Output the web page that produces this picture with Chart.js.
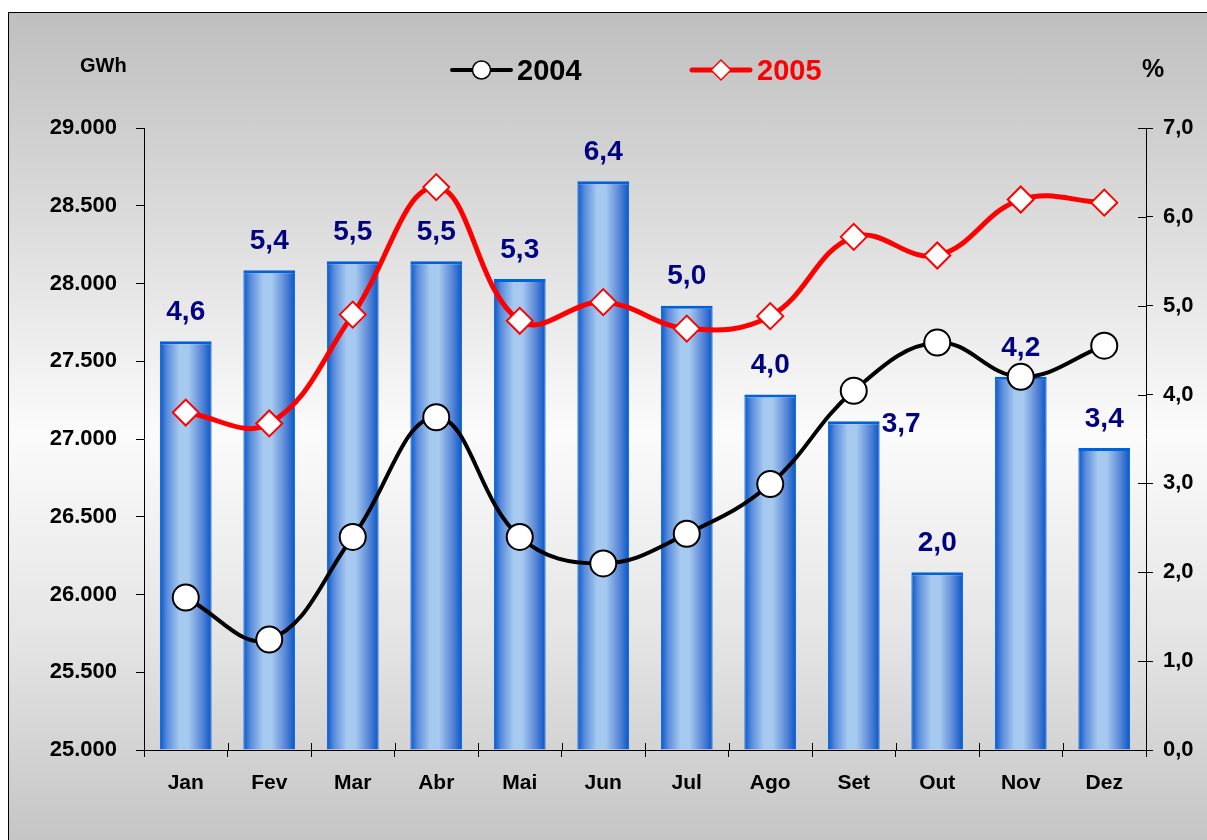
<!DOCTYPE html>
<html>
<head>
<meta charset="utf-8">
<script src="https://cdn.jsdelivr.net/npm/chart.js@4.4.1/dist/chart.umd.min.js"></script>
<style>
  html, body { margin: 0; padding: 0; background: #fff; }
  #frame {
    position: absolute; left: 8px; top: 12px; width: 1210px; height: 840px;
    border-left: 1px solid #000; border-top: 1px solid #000;
    background: linear-gradient(to bottom, #bfbfbf 0%, #dcdcdc 25%, #fbfbfb 50%, #e4e4e4 75%, #c3c3c3 100%);
  }
  #wrap { position: absolute; left: 0; top: 0; width: 1207px; height: 840px; }
</style>
</head>
<body>
<div id="frame"></div>
<div id="wrap"><canvas id="myChart" width="1207" height="840"></canvas></div>
<script>
const months = ["Jan", "Fev", "Mar", "Abr", "Mai", "Jun", "Jul", "Ago", "Set", "Out", "Nov", "Dez"];
const growth = [4.6, 5.4, 5.5, 5.5, 5.3, 6.4, 5.0, 4.0, 3.7, 2.0, 4.2, 3.4];
const gwh2004 = [25980, 25710, 26370, 27140, 26370, 26200, 26390, 26710, 27310, 27620, 27400, 27600];
const gwh2005 = [27170, 27100, 27800, 28620, 27760, 27880, 27710, 27790, 28300, 28180, 28540, 28520];

const fontFam = "'Liberation Sans', Arial, sans-serif";
const barPct = 0.62;

const fmtThousands = (v) => String(v).replace(/\B(?=(\d{3})+(?!\d))/g, ".");
const fmtComma = (v) => Number(v).toFixed(1).replace(".", ",");

// scriptable so that every bar gets its own options object, the gradient is set before drawing
const barFill = (c) => "#4a80d8";

const barGradient = {
  id: "barGradient",
  beforeDatasetDraw(chart, args) {
    if (args.index !== 0) return;
    const ctx = chart.ctx;
    args.meta.data.forEach((bar) => {
      const half = bar.width / 2;
      if (!isFinite(bar.x) || !isFinite(half)) return;
      const g = ctx.createLinearGradient(bar.x - half, 0, bar.x + half, 0);
      g.addColorStop(0, "#0558cc");
      g.addColorStop(0.14, "#5a8cdc");
      g.addColorStop(0.38, "#a6c9ef");
      g.addColorStop(0.55, "#a6c9ef");
      g.addColorStop(0.82, "#5584d6");
      g.addColorStop(1, "#0556c8");
      bar.options.backgroundColor = g;
    });
  }
};

// data labels on bars, drawn right after the bars so lines sit on top
const barLabels = {
  id: "barLabels",
  afterDatasetDraw(chart, args) {
    if (args.index !== 0) return;
    const ctx = chart.ctx;
    ctx.save();
    ctx.font = "bold 28px " + fontFam;
    ctx.fillStyle = "#000080";
    ctx.textBaseline = "middle";
    args.meta.data.forEach((bar, i) => {
      let x = bar.x, y = bar.y - 29;
      ctx.textAlign = "center";
      if (months[i] === "Set") { x = bar.x + bar.width / 2 + 2; y = bar.y + 3; ctx.textAlign = "left"; }
      ctx.fillText(fmtComma(growth[i]), x, y);
    });
    ctx.restore();
  }
};

// legend, axis units and the inner halves of cross ticks
const extras = {
  id: "extras",
  afterDraw(chart) {
    const ctx = chart.ctx;
    const xs = chart.scales.x, yr = chart.scales.y1;
    ctx.save();
    ctx.strokeStyle = "#000";
    ctx.lineWidth = 1;
    ctx.beginPath();
    for (let i = 1; i < months.length; i++) {
      const px = Math.round(xs.left + i * xs.width / months.length) + 0.5;
      ctx.moveTo(px, xs.top - 7);
      ctx.lineTo(px, xs.top);
    }
    yr.ticks.forEach((t, i) => {
      const py = Math.round(yr.getPixelForTick(i)) + 0.5;
      ctx.moveTo(yr.left - 8, py);
      ctx.lineTo(yr.left, py);
    });
    ctx.stroke();

    ctx.fillStyle = "#000";
    ctx.font = "bold 20px " + fontFam;
    ctx.textAlign = "left";
    ctx.textBaseline = "alphabetic";
    ctx.fillText("GWh", 80, 72);
    ctx.font = "bold 25px " + fontFam;
    ctx.fillText("%", 1142, 77);

    const legendY = 70;
    const items = [
      { x1: 452, x2: 511, tx: 517, color: "#000", width: 4, style: "circle", text: "2004" },
      { x1: 692, x2: 750, tx: 757, color: "#ff0000", width: 5, style: "diamond", text: "2005" }
    ];
    items.forEach((it) => {
      ctx.strokeStyle = it.color;
      ctx.lineWidth = it.width;
      ctx.lineCap = "round";
      ctx.beginPath();
      ctx.moveTo(it.x1, legendY);
      ctx.lineTo(it.x2, legendY);
      ctx.stroke();
      const mx = (it.x1 + it.x2) / 2;
      ctx.lineWidth = 1.5;
      ctx.fillStyle = "#fff";
      ctx.beginPath();
      if (it.style === "circle") {
        ctx.arc(mx, legendY, 9, 0, Math.PI * 2);
      } else {
        ctx.moveTo(mx - 10, legendY); ctx.lineTo(mx, legendY - 10);
        ctx.lineTo(mx + 10, legendY); ctx.lineTo(mx, legendY + 10);
        ctx.closePath();
      }
      ctx.fill();
      ctx.stroke();
      ctx.fillStyle = it.color;
      ctx.font = "bold 29px " + fontFam;
      ctx.textBaseline = "middle";
      ctx.fillText(it.text, it.tx, legendY + 2);
    });
    ctx.restore();
  }
};

new Chart("myChart", {
  type: "bar",
  data: {
    labels: months,
    datasets: [
      {
        label: "%",
        data: growth,
        yAxisID: "y1",
        order: 3,
        backgroundColor: barFill,
        borderColor: "#0062d6",
        borderWidth: { top: 3, left: 1, right: 1, bottom: 0 },
        barPercentage: barPct,
        categoryPercentage: 1.0
      },
      {
        type: "line",
        label: "2004",
        data: gwh2004,
        yAxisID: "y",
        order: 2,
        borderColor: "#000",
        borderWidth: 4,
        tension: 0.4,
        pointStyle: "circle",
        pointRadius: 13,
        pointBackgroundColor: "#fff",
        pointBorderColor: "#000",
        pointBorderWidth: 2
      },
      {
        type: "line",
        label: "2005",
        data: gwh2005,
        yAxisID: "y",
        order: 1,
        borderColor: "#ff0000",
        borderWidth: 5,
        tension: 0.4,
        pointStyle: "rectRot",
        pointRadius: 13,
        pointBackgroundColor: "#fff",
        pointBorderColor: "#ff0000",
        pointBorderWidth: 2
      }
    ]
  },
  options: {
    responsive: false,
    animation: false,
    layout: { padding: { top: 128, left: 0, right: 0, bottom: 0 } },
    plugins: { legend: { display: false }, tooltip: { enabled: false } },
    scales: {
      x: {
        afterFit: (s) => { s.height = 90; },
        grid: { drawOnChartArea: false, drawTicks: true, tickLength: 7, color: "#000", offset: true },
        border: { display: true, color: "#000", width: 1 },
        ticks: { color: "#000", font: { family: fontFam, size: 21, weight: "bold" }, padding: 14 }
      },
      y: {
        position: "left",
        min: 25000,
        max: 29000,
        afterFit: (s) => { s.width = 144; },
        grid: { drawOnChartArea: false, drawTicks: true, tickLength: 8, color: "#000" },
        border: { display: true, color: "#000", width: 1 },
        ticks: {
          stepSize: 500,
          color: "#000",
          padding: 19,
          font: { family: fontFam, size: 22, weight: "bold" },
          callback: (v) => fmtThousands(v)
        }
      },
      y1: {
        position: "right",
        min: 0,
        max: 7,
        afterFit: (s) => { s.width = 61; },
        grid: { drawOnChartArea: false, drawTicks: true, tickLength: 7, color: "#000" },
        border: { display: true, color: "#000", width: 1 },
        ticks: {
          stepSize: 1,
          color: "#000",
          padding: 10,
          font: { family: fontFam, size: 22, weight: "bold" },
          callback: (v) => fmtComma(v)
        }
      }
    }
  },
  plugins: [barGradient, barLabels, extras]
});
</script>
</body>
</html>
